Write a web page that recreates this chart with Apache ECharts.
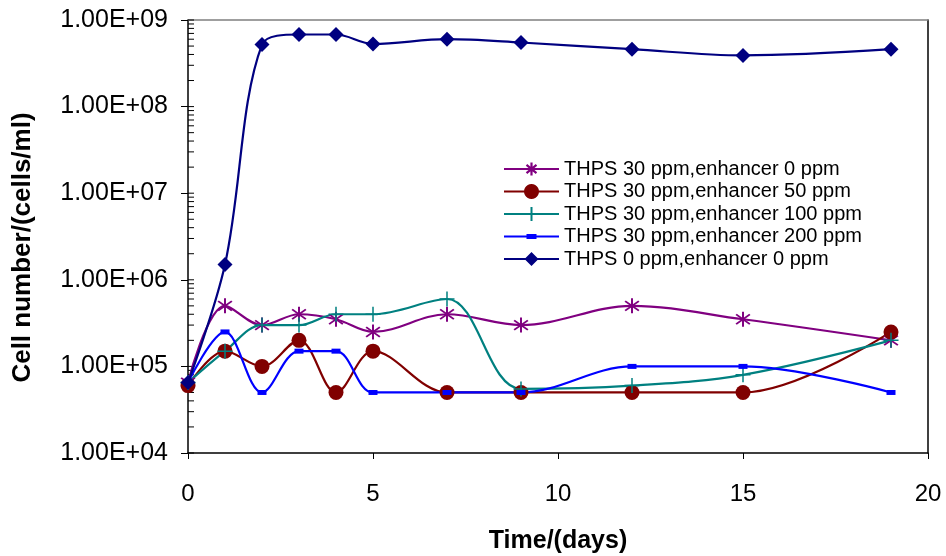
<!DOCTYPE html>
<html>
<head>
<meta charset="utf-8">
<script src="https://cdn.jsdelivr.net/npm/echarts@6/dist/echarts.min.js"></script>
<style>
  html, body { margin: 0; padding: 0; background: #fff; }
  #chart { width: 946px; height: 556px; }
</style>
</head>
<body>
<div id="chart"></div>
<script>
// days on the x axis
var days = [0, 1, 2, 3, 4, 5, 7, 9, 12, 15, 19]

// cell counts (cells/ml)
var thps30Enh0   = [6.5e4, 5.0e5, 3.0e5, 4.0e5, 3.5e5, 2.5e5, 4.0e5, 3.0e5, 5.0e5, 3.5e5, 2.0e5]
var thps30Enh50  = [6.0e4, 1.5e5, 1.0e5, 2.0e5, 5.0e4, 1.5e5, 5.0e4, 5.0e4, 5.0e4, 5.0e4, 2.5e5]
var thps30Enh100 = [6.5e4, 1.5e5, 3.0e5, 3.0e5, 4.0e5, 4.0e5, 6.0e5, 5.5e4, 6.0e4, 8.0e4, 2.0e5]
var thps30Enh200 = [6.5e4, 2.5e5, 5.0e4, 1.5e5, 1.5e5, 5.0e4, 5.0e4, 5.0e4, 1.0e5, 1.0e5, 5.0e4]
var thps0Enh0    = [6.5e4, 1.5e6, 5.2e8, 6.8e8, 6.8e8, 5.3e8, 6.0e8, 5.5e8, 4.6e8, 3.9e8, 4.6e8]

var seriesNames = [
  'THPS 30 ppm,enhancer 0 ppm',
  'THPS 30 ppm,enhancer 50 ppm',
  'THPS 30 ppm,enhancer 100 ppm',
  'THPS 30 ppm,enhancer 200 ppm',
  'THPS 0 ppm,enhancer 0 ppm'
]

var xTicks = [0, 5, 10, 15, 20]
var yDecades = [1e4, 1e5, 1e6, 1e7, 1e8, 1e9]

function pairs(vals) {
  return vals.map(function (v, i) { return [days[i], v] })
}

// --- marker shapes (paths around a centre point) ---
function poly(pts) {
  return 'M' + pts.map(function (p) { return p[0].toFixed(2) + ' ' + p[1].toFixed(2) }).join(' L') + ' Z '
}
function bar(cx, cy, angle, l, w) {
  var a = angle * Math.PI / 180
  var dx = Math.cos(a), dy = Math.sin(a)
  var px = -dy * w, py = dx * w
  return poly([[cx + l * dx + px, cy + l * dy + py], [cx - l * dx + px, cy - l * dy + py],
               [cx - l * dx - px, cy - l * dy - py], [cx + l * dx - px, cy + l * dy - py]])
}
function asteriskAt(cx, cy, l) {
  return bar(cx, cy, 90, l, 1.1) + bar(cx, cy, 40, l, 1.1) + bar(cx, cy, 140, l, 1.1)
}
function circleAt(cx, cy, r) {
  var pts = []
  for (var i = 0; i < 24; i++) {
    var a = i / 24 * Math.PI * 2
    pts.push([cx + r * Math.cos(a), cy + r * Math.sin(a)])
  }
  return poly(pts)
}
function plusAt(cx, cy, l) {
  return bar(cx, cy, 90, l, 1) + bar(cx, cy, 0, l, 1)
}
function diamondAt(cx, cy, r) {
  return poly([[cx, cy - r], [cx + r, cy], [cx, cy + r], [cx - r, cy]])
}
function rectAt(cx, cy, w, h) {
  return poly([[cx - w / 2, cy - h / 2], [cx + w / 2, cy - h / 2], [cx + w / 2, cy + h / 2], [cx - w / 2, cy + h / 2]])
}

var asterisk = 'path://' + asteriskAt(0, 0, 10)
var plus = 'path://' + plusAt(0, 0, 10)

// legend icons: line + marker inside a 55 x 15 box
var LW = 55, LH = 15, LC = 27.5, LM = 7.5
var corners = 'M0 0 L0.01 0 L0 0.01 Z M55 15 L54.99 15 L55 14.99 Z '
var legendLine = poly([[0, LM - 1], [LW, LM - 1], [LW, LM + 1], [0, LM + 1]])
var legendIcons = [
  'path://' + corners + legendLine + asteriskAt(LC, LM, 6.5),
  'path://' + corners + legendLine + circleAt(LC, LM, 7.5),
  'path://' + corners + legendLine + plusAt(LC, LM, 7),
  'path://' + corners + legendLine + rectAt(LC, LM, 10, 5),
  'path://' + corners + legendLine + diamondAt(LC, LM, 7)
]

function fmtExp(v) {
  var e = Math.round(Math.log10(v))
  return '1.00E+' + (e < 10 ? '0' + e : e)
}

// minor ticks 2..9 in each decade, drawn on the log axis
var minorTicks = []
yDecades.slice(0, -1).forEach(function (d) {
  for (var k = 2; k <= 9; k++) minorTicks.push(d * k)
})

var chart = echarts.init(document.getElementById('chart'), null, { renderer: 'canvas' })

function lineSeries(name, vals, color, symbol, size) {
  return {
    name: name,
    type: 'line',
    data: pairs(vals),
    smooth: 0.35,
    symbol: symbol,
    symbolSize: size,
    showAllSymbol: true,
    lineStyle: { color: color, width: 2.2 },
    itemStyle: { color: color },
    z: 3
  }
}

var font = 'Liberation Sans, Arial, sans-serif'

chart.setOption({
  animation: false,
  textStyle: { fontFamily: font, color: '#000' },
  grid: { left: 188, right: 18, top: 20, bottom: 103, outerBoundsMode: 'none' },
  legend: {
    data: seriesNames.map(function (n, i) { return { name: n, icon: legendIcons[i] } }),
    orient: 'vertical',
    left: 499,
    top: 154,
    padding: 5,
    itemWidth: LW,
    itemHeight: LH,
    itemGap: 2.5,
    textStyle: { fontSize: 20, lineHeight: 20, color: '#000', fontFamily: font }
  },
  xAxis: [{
    type: 'value',
    min: 0, max: 20, interval: 5,
    name: 'Time/(days)',
    nameLocation: 'middle',
    nameGap: 76,
    nameTextStyle: { fontSize: 25, fontWeight: 'bold', color: '#000' },
    axisLine: { lineStyle: { color: '#000', width: 1.5 } },
    axisTick: { show: true, length: 6, lineStyle: { color: '#000' } },
    axisLabel: {
      fontSize: 24, color: '#000', margin: 29,
      formatter: function (v) { return xTicks.indexOf(v) >= 0 ? String(v) : '' }
    },
    splitLine: { show: false }
  }, {
    type: 'value', position: 'top', min: 0, max: 20,
    axisLine: { show: true, onZero: false, lineStyle: { color: '#808080', width: 1.5 } },
    axisTick: { show: false }, axisLabel: { show: false }, splitLine: { show: false }
  }],
  yAxis: [{
    type: 'log',
    logBase: 10,
    min: 1e4, max: 1e9,
    name: 'Cell number/(cells/ml)',
    nameLocation: 'middle',
    nameGap: 152,
    nameTextStyle: { fontSize: 26, fontWeight: 'bold', color: '#000', padding: [0, 22, 0, 0] },
    axisLine: { show: true, lineStyle: { color: '#000', width: 1.5 } },
    axisTick: { show: true, length: 7, lineStyle: { color: '#000' } },
    axisLabel: { fontSize: 25, color: '#000', margin: 20, formatter: fmtExp },
    splitLine: { show: false }
  }, {
    type: 'value', position: 'right', min: 0, max: 1,
    axisLine: { show: true, onZero: false, lineStyle: { color: '#000', width: 1.5 } },
    axisTick: { show: false }, axisLabel: { show: false }, splitLine: { show: false }
  }],
  series: [
    {
      type: 'custom',
      silent: true,
      clip: false,
      z: 1,
      data: [[0, 1e4]],
      renderItem: function (params, api) {
        var children = []
        minorTicks.concat(yDecades).forEach(function (v) {
          var p = api.coord([0, v])
          children.push({ type: 'line', shape: { x1: p[0], y1: p[1], x2: p[0] + 6, y2: p[1] },
            style: { stroke: '#000', lineWidth: 1 } })
        })
        return { type: 'group', children: children }
      }
    },
    lineSeries(seriesNames[0], thps30Enh0, '#800080', asterisk, 15),
    lineSeries(seriesNames[1], thps30Enh50, '#800000', 'circle', 15),
    lineSeries(seriesNames[2], thps30Enh100, '#008080', plus, 15),
    lineSeries(seriesNames[3], thps30Enh200, '#0000FF', 'rect', [9, 5]),
    lineSeries(seriesNames[4], thps0Enh0, '#000080', 'diamond', 15)
  ]
})
</script>
</body>
</html>
